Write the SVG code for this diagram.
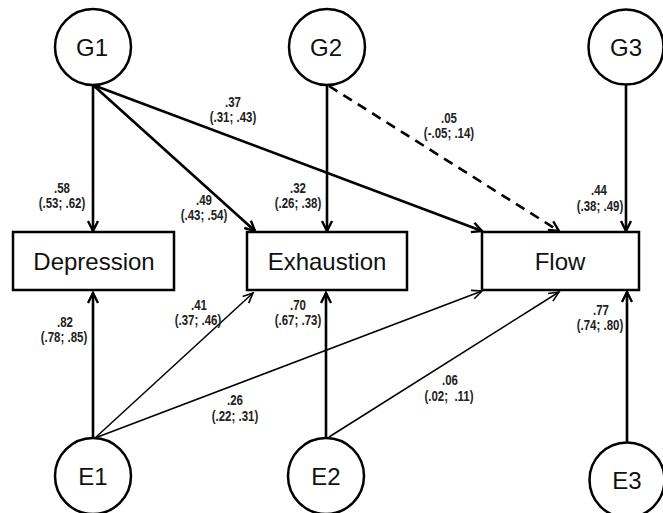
<svg xmlns="http://www.w3.org/2000/svg" width="663" height="513" viewBox="0 0 663 513">
<style>
.node{fill:#fff;stroke:#000;stroke-width:2.5}
.nt{font-family:"Liberation Sans",Arial,sans-serif;font-size:24px;text-anchor:middle;fill:#111}
.thick{stroke:#000;stroke-width:2.6;fill:none}
.thin{stroke:#000;stroke-width:1.5;fill:none}
.dash{stroke-dasharray:10 7}
.lbl{font-family:"Liberation Sans",Arial,sans-serif;font-size:14px;font-weight:bold;text-anchor:middle;fill:#222}
</style>
<defs>
<marker id="ahT" markerUnits="userSpaceOnUse" markerWidth="14" markerHeight="14" refX="11" refY="6" orient="auto" viewBox="0 0 14 12">
<path d="M1,1 L11,6 L1,11" fill="none" stroke="#000" stroke-width="2.4"/>
</marker>
<marker id="ahN" markerUnits="userSpaceOnUse" markerWidth="14" markerHeight="14" refX="11" refY="6" orient="auto" viewBox="0 0 14 12">
<path d="M1,1.5 L11,6 L1,10.5" fill="none" stroke="#000" stroke-width="1.6"/>
</marker>
</defs>
<rect width="663" height="513" fill="#fff"/>
<g id="connectors">
<line class="thick" x1="93" y1="85" x2="93" y2="231" marker-end="url(#ahT)"/>
<line class="thick" x1="93" y1="85" x2="255" y2="231" marker-end="url(#ahT)"/>
<line class="thick" x1="93" y1="85" x2="482" y2="231" marker-end="url(#ahT)"/>
<line class="thick" x1="327" y1="85" x2="327" y2="231" marker-end="url(#ahT)"/>
<line class="thick dash" x1="329" y1="86" x2="559" y2="231" marker-end="url(#ahT)"/>
<line class="thick" x1="626" y1="85" x2="626" y2="231" marker-end="url(#ahT)"/>
<line class="thick" x1="93" y1="438" x2="93" y2="293" marker-end="url(#ahT)"/>
<line class="thin" x1="95" y1="438" x2="253" y2="293" marker-end="url(#ahN)"/>
<line class="thin" x1="95" y1="438" x2="482" y2="291" marker-end="url(#ahN)"/>
<line class="thick" x1="326" y1="438" x2="326" y2="293" marker-end="url(#ahT)"/>
<line class="thin" x1="329" y1="437" x2="559" y2="292" marker-end="url(#ahN)"/>
<line class="thick" x1="627" y1="442" x2="627" y2="292" marker-end="url(#ahT)"/>
<text class="lbl" transform="translate(233,107) scale(0.82,1)">.37</text>
<text class="lbl" transform="translate(233,122) scale(0.82,1)">(.31; .43)</text>
<text class="lbl" transform="translate(62,193) scale(0.82,1)">.58</text>
<text class="lbl" transform="translate(62,208) scale(0.82,1)">(.53; .62)</text>
<text class="lbl" transform="translate(204,205) scale(0.82,1)">.49</text>
<text class="lbl" transform="translate(204,220) scale(0.82,1)">(.43; .54)</text>
<text class="lbl" transform="translate(298,193) scale(0.82,1)">.32</text>
<text class="lbl" transform="translate(298,208) scale(0.82,1)">(.26; .38)</text>
<text class="lbl" transform="translate(449,123) scale(0.82,1)">.05</text>
<text class="lbl" transform="translate(449,138) scale(0.82,1)">(-.05; .14)</text>
<text class="lbl" transform="translate(599,195) scale(0.82,1)">.44</text>
<text class="lbl" transform="translate(600,211) scale(0.82,1)">(.38; .49)</text>
<text class="lbl" transform="translate(65,327) scale(0.82,1)">.82</text>
<text class="lbl" transform="translate(64,342) scale(0.82,1)">(.78; .85)</text>
<text class="lbl" transform="translate(199,310) scale(0.82,1)">.41</text>
<text class="lbl" transform="translate(198,325) scale(0.82,1)">(.37; .46)</text>
<text class="lbl" transform="translate(298,310) scale(0.82,1)">.70</text>
<text class="lbl" transform="translate(298,325) scale(0.82,1)">(.67; .73)</text>
<text class="lbl" transform="translate(235,405) scale(0.82,1)">.26</text>
<text class="lbl" transform="translate(235,421) scale(0.82,1)">(.22; .31)</text>
<text class="lbl" transform="translate(450,385) scale(0.82,1)">.06</text>
<text class="lbl" transform="translate(449,401) scale(0.82,1)" xml:space="preserve">(.02;  .11)</text>
<text class="lbl" transform="translate(601,315) scale(0.82,1)">.77</text>
<text class="lbl" transform="translate(600,330) scale(0.82,1)">(.74; .80)</text>
</g>
<g id="G1"><circle class="node" cx="93" cy="47" r="38"/><text class="nt" x="92" y="56">G1</text></g>
<g id="G2"><circle class="node" cx="327" cy="47" r="38"/><text class="nt" x="326" y="56">G2</text></g>
<g id="G3"><circle class="node" cx="626" cy="47" r="37.5"/><text class="nt" x="626" y="56">G3</text></g>
<g id="Depression"><rect class="node" x="13" y="232" width="161" height="58"/><text class="nt" x="94" y="270">Depression</text></g>
<g id="Exhaustion"><rect class="node" x="247" y="232" width="160" height="58"/><text class="nt" x="327" y="270">Exhaustion</text></g>
<g id="Flow"><rect class="node" x="482" y="232" width="157" height="58"/><text class="nt" x="560" y="270">Flow</text></g>
<g id="E1"><circle class="node" cx="93" cy="476" r="38"/><text class="nt" x="93" y="485">E1</text></g>
<g id="E2"><circle class="node" cx="326" cy="476" r="38"/><text class="nt" x="326" y="485">E2</text></g>
<g id="E3"><circle class="node" cx="627" cy="480" r="37.5"/><text class="nt" x="627" y="489">E3</text></g>
</svg>
